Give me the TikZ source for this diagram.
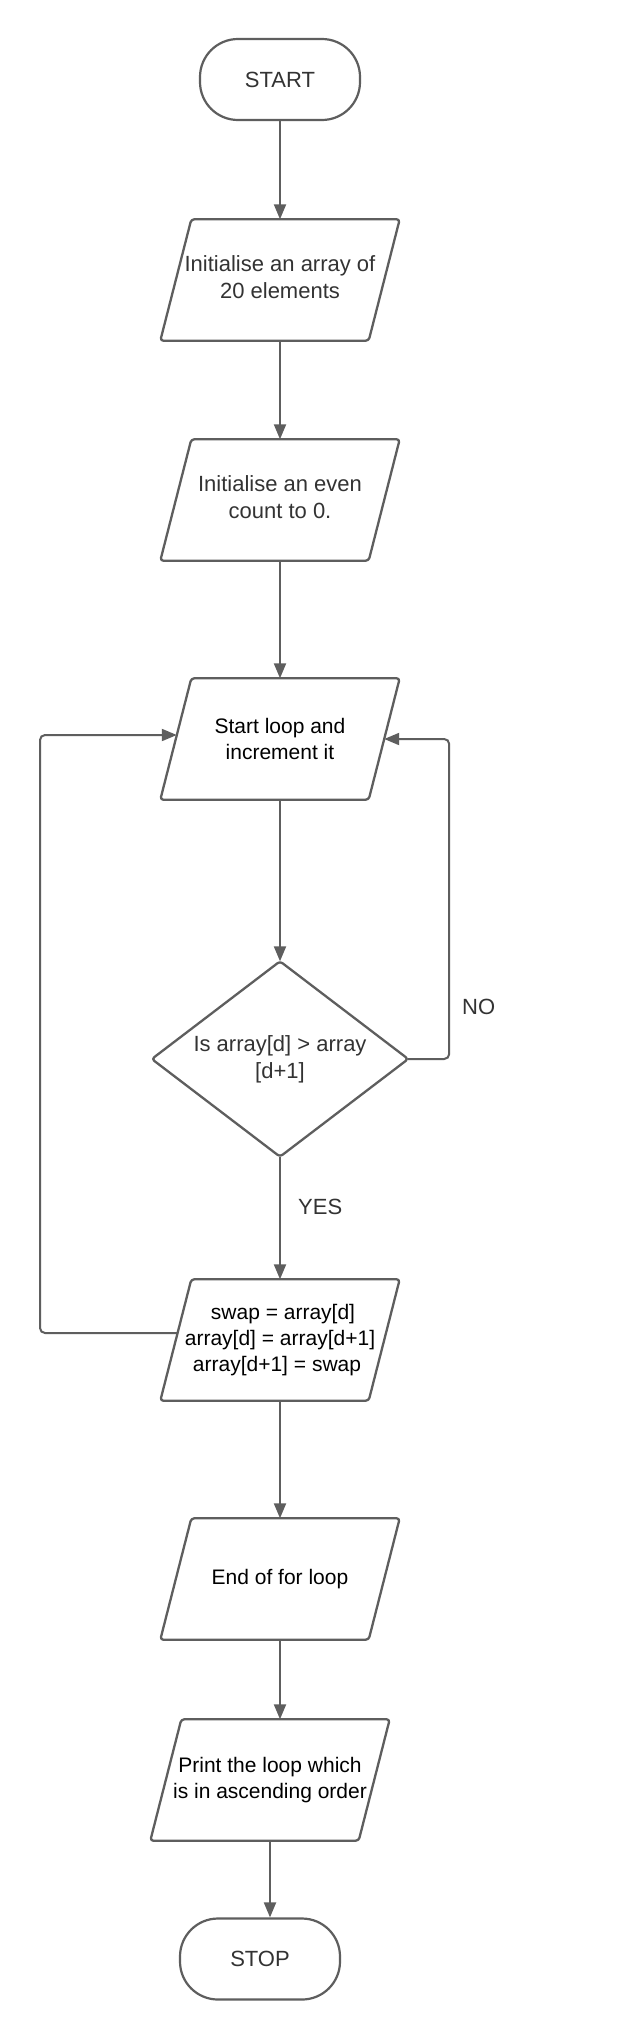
\documentclass[tikz,border=0pt]{standalone}
\usepackage{fontspec}
\setmainfont{Liberation Sans}
\usetikzlibrary{arrows.meta,calc}
\definecolor{linegray}{HTML}{5E5E5E}
\definecolor{txtgray}{HTML}{333333}
\newcommand\parashape[1]{\draw[outline] ($(#1.north west)+(15.5,0)$) -- ($(#1.north east)+(15.5,0)$) -- ($(#1.south east)+(-15.5,0)$) -- ($(#1.south west)+(-15.5,0)$) -- cycle;}
\begin{document}
\begin{tikzpicture}[x=1pt,y=-1pt,
  base/.style={inner sep=0pt, align=center, font=\fontsize{21}{26}\selectfont},
  graytext/.style={text=txtgray, font=\fontsize{22}{27}\selectfont},
  paranode/.style={base, minimum width=208pt, minimum height=121pt},
  termnode/.style={base, graytext, draw=linegray, line width=2.2pt, rounded corners=38pt, minimum width=160pt, minimum height=81pt},
  outline/.style={draw=linegray, line width=2.3pt, rounded corners=3pt, line join=round},
  conn/.style={draw=linegray, line width=2pt, -{Triangle[length=15pt,width=12pt]}},
  loopconn/.style={conn, rounded corners=5pt},
  lbl/.style={base, graytext}]
\fill[white] (0,0) rectangle (640,2040);
\useasboundingbox (0,0) rectangle (640,2040);

\node[termnode] (start) at (280,79.5) {START};

\node[paranode, graytext] (p1) at (280,280) {\raisebox{5pt}{\begin{tabular}{@{}c@{}}Initialise an array of\\20 elements\end{tabular}}};
\parashape{p1}
\node[paranode, graytext] (p2) at (280,500) {\raisebox{4pt}{\begin{tabular}{@{}c@{}}Initialise an even\\count to 0.\end{tabular}}};
\parashape{p2}
\node[paranode, text=black] (p3) at (280,739) {Start loop and\\increment it};
\parashape{p3}

\node[base, graytext, minimum width=256pt, minimum height=195pt] (dec) at (280,1059) {Is array[d] > array\\\relax[d+1]};
\draw[outline] (dec.north) -- (dec.east) -- (dec.south) -- (dec.west) -- cycle;

\node[paranode, text=black] (p4) at (280,1340) {\hspace*{6pt}swap = array[d]\\array[d] = array[d+1]\\array[d+1] = swap\hspace*{6pt}};
\parashape{p4}
\node[paranode, text=black] (p5) at (280,1579) {End of for loop};
\parashape{p5}
\node[paranode, text=black] (p6) at (270,1780) {Print the loop which\\is in ascending order};
\parashape{p6}

\node[termnode] (stop) at (260,1959) {STOP};

\node[lbl, anchor=west] (nolbl) at (462,1007) {NO};
\node[lbl, anchor=west] (yeslbl) at (298,1207) {YES};

\coordinate (lx) at (40,0);

\draw[conn] (start.south) -- (p1.north);
\draw[conn] (p1.south) -- (p2.north);
\draw[conn] (p2.south) -- (p3.north);
\draw[conn] (p3.south) -- (dec.north);
\draw[conn] (dec.south) -- (p4.north);
\draw[conn] (p4.south) -- (p5.north);
\draw[conn] (p5.south) -- (p5.south |- p6.north);
\draw[conn] (p6.south) -- (p6.south |- stop.north);

\draw[loopconn] (dec.east) -- ++(41,0) |- (p3.east);
\draw[loopconn] ($(p4.west)+(1.8,-7)$) -- ($(lx |- p4.west)+(0,-7)$) -- ($(lx |- p3.west)+(0,-4)$) -- ($(p3.west)+(1,-4)$);
\end{tikzpicture}
\end{document}
